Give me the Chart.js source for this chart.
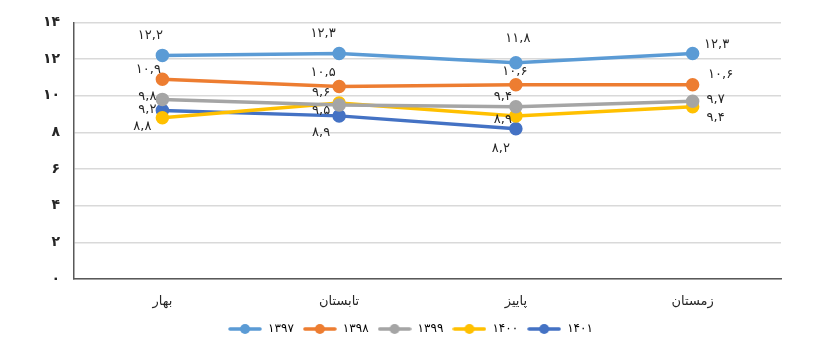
<!DOCTYPE html>
<html>
<head>
<meta charset="utf-8">
<script src="https://cdn.jsdelivr.net/npm/chart.js@4"></script>
<style>
  html, body { margin: 0; padding: 0; background: #fff; }
  #wrap { width: 835px; height: 345px; }
</style>
</head>
<body>
<div id="wrap"><canvas id="chart" width="835" height="345"></canvas></div>
<script>
// seasons and yearly values
const seasons = ["بهار", "تابستان", "پاییز", "زمستان"];
const years = ["1397", "1398", "1399", "1400", "1401"];
const v1397 = [12.2, 12.3, 11.8, 12.3];
const v1398 = [10.9, 10.5, 10.6, 10.6];
const v1399 = [9.8, 9.5, 9.4, 9.7];
const v1400 = [8.8, 9.6, 8.9, 9.4];
const v1401 = [9.2, 8.9, 8.2, null];

const colors = ["#5B9BD5", "#ED7D31", "#A5A5A5", "#FFC000", "#4472C4"];

// where each value label sits relative to its point (dx, dy)
const labelPos = [
  [[-12, -20], [-16, -20], [2, -24], [24, -9]],
  [[-14, -10], [-16, -14], [-1, -13], [28, -10]],
  [[-15, -3], [-18, 6], [-13, -10], [23, -2]],
  [[-20, 9], [-18, -10], [-13, 4], [23, 11]],
  [[-15, -1], [-18, 17], [-15, 20], [0, 0]]
];

const fa = s => String(s).replace(/\d/g, d => "۰۱۲۳۴۵۶۷۸۹"[d]).replace(".", ",");

// legend marker: short line with a dot
function lineMarker(color) {
  const c = document.createElement("canvas");
  c.width = 34; c.height = 12;
  const g = c.getContext("2d");
  g.strokeStyle = color; g.lineWidth = 3.5; g.lineCap = "round";
  g.beginPath(); g.moveTo(2, 6); g.lineTo(32, 6); g.stroke();
  g.fillStyle = color;
  g.beginPath(); g.arc(17, 6, 5, 0, Math.PI * 2); g.fill();
  return c;
}

const valueLabels = {
  id: "valueLabels",
  afterDatasetsDraw(chart) {
    const c = chart.ctx;
    c.save();
    c.font = "13px 'DejaVu Sans'";
    c.fillStyle = "#262626";
    c.textAlign = "center";
    c.textBaseline = "middle";
    chart.data.datasets.forEach((ds, i) => {
      const meta = chart.getDatasetMeta(i);
      meta.data.forEach((pt, j) => {
        const v = ds.data[j];
        if (v == null) return;
        const [dx, dy] = labelPos[i][j];
        c.fillText(fa(v.toFixed(1)), pt.x + dx, pt.y + dy);
      });
    });
    c.restore();
  }
};

const series = [v1397, v1398, v1399, v1400, v1401];

new Chart(document.getElementById("chart"), {
  type: "line",
  data: {
    labels: seasons,
    datasets: series.map((d, i) => ({
      label: years[i],
      data: d,
      borderColor: colors[i],
      backgroundColor: colors[i],
      pointBackgroundColor: colors[i],
      pointBorderColor: colors[i],
      borderWidth: 3.5,
      pointRadius: 5,
      tension: 0
    }))
  },
  options: {
    responsive: false,
    animation: false,
    layout: { padding: { left: 40, right: 54, top: 14, bottom: 0 } },
    plugins: {
      tooltip: { enabled: false },
      legend: {
        position: "bottom",
        labels: {
          usePointStyle: true,
          pointStyleWidth: 34,
          padding: 9,
          color: "#262626",
          font: { family: "DejaVu Sans", size: 12 },
          generateLabels(chart) {
            return chart.data.datasets.map((ds, i) => ({
              text: fa(ds.label),
              fillStyle: colors[i],
              strokeStyle: colors[i],
              lineWidth: 0,
              pointStyle: lineMarker(colors[i]),
              datasetIndex: i
            }));
          }
        }
      }
    },
    scales: {
      x: {
        offset: true,
        afterFit(axis) { axis.height = 35; },
        grid: { display: false, drawTicks: false },
        border: { color: "#595959", width: 1.5 },
        ticks: {
          color: "#262626",
          padding: 15,
          font: { family: "DejaVu Sans", size: 13 }
        }
      },
      y: {
        min: 0,
        max: 14,
        afterFit(axis) { axis.width = 34; },
        grid: { color: "#d9d9d9", lineWidth: 1.5, drawTicks: false },
        border: { color: "#595959", width: 1.5 },
        ticks: {
          stepSize: 2,
          padding: 14,
          color: "#262626",
          font: { family: "DejaVu Sans", size: 14, weight: "bold" },
          callback: v => fa(v)
        }
      }
    }
  },
  plugins: [valueLabels]
});
</script>
</body>
</html>
